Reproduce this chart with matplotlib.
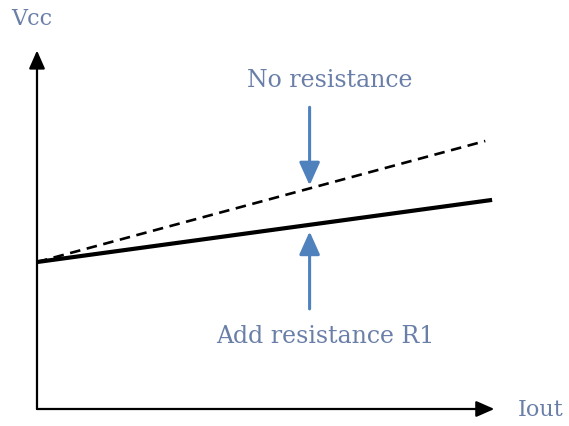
import matplotlib
matplotlib.use("Agg")
import matplotlib.pyplot as plt

# Data (arbitrary units)
iout = [0.0, 10.0]
v_with_r1 = [4.14, 5.89]
iout_dash = [0.0, 9.85]
v_no_resistance = [4.14, 7.55]

label_vcc = "Vcc"
label_iout = "Iout"
label_no = "No resistance"
label_r1 = "Add resistance R1"

text_color = "#6a7fa8"
arrow_color = "#4f81bd"

fig = plt.figure(figsize=(5.69, 4.27), dpi=100)
ax = fig.add_axes([0, 0, 1, 1])
ax.set_xlim(-0.813, 11.69)
ax.set_ylim(-0.479, 11.55)
ax.axis("off")

# axes arrows
head = "-|>,head_length=0.5,head_width=0.22"
ax.annotate("", xy=(10.05, 0), xytext=(0, 0),
            arrowprops=dict(arrowstyle=head, color="black", lw=1.6,
                            mutation_scale=22, shrinkA=0, shrinkB=0))
ax.annotate("", xy=(0, 10.1), xytext=(0, 0),
            arrowprops=dict(arrowstyle=head, color="black", lw=1.6,
                            mutation_scale=22, shrinkA=0, shrinkB=0))

# lines
ax.plot(iout_dash, v_no_resistance, color="black", lw=1.9, ls=(0, (4, 2.5)))
ax.plot(iout, v_with_r1, color="black", lw=3.0, solid_capstyle="butt")

# blue arrows
bstyle = "-|>,head_length=1.0,head_width=0.45"
ax.annotate("", xy=(5.99, 6.3), xytext=(5.99, 8.5),
            arrowprops=dict(arrowstyle=bstyle, color=arrow_color, lw=2.2,
                            shrinkA=0, shrinkB=0, mutation_scale=14))
ax.annotate("", xy=(5.99, 5.0), xytext=(5.99, 2.82),
            arrowprops=dict(arrowstyle=bstyle, color=arrow_color, lw=2.2,
                            shrinkA=0, shrinkB=0, mutation_scale=14))

fs = 17
ax.text(6.44, 9.10, label_no, color=text_color, fontsize=fs, family="DejaVu Serif",
        ha="center", va="baseline")
ax.text(6.33, 1.89, label_r1, color=text_color, fontsize=fs, family="DejaVu Serif",
        ha="center", va="baseline")
ax.text(-0.11, 10.85, label_vcc, color=text_color, fontsize=16, family="DejaVu Serif",
        ha="center", va="baseline")
ax.text(11.06, 0.0, label_iout, color=text_color, fontsize=16, family="DejaVu Serif",
        ha="center", va="center")

fig.savefig("out.png", dpi=100)
